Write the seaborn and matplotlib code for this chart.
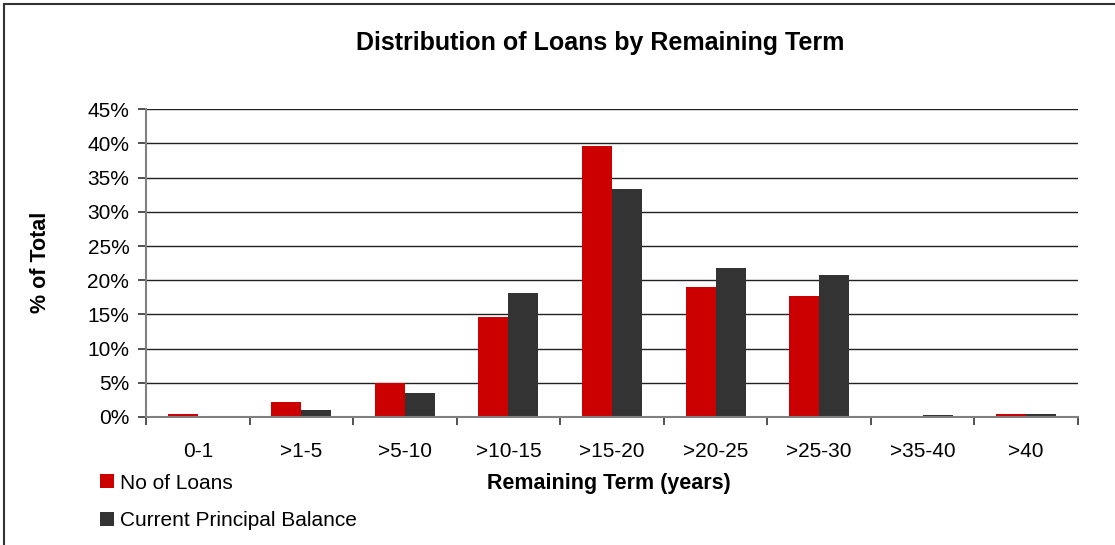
import matplotlib
matplotlib.use("Agg")
import matplotlib.pyplot as plt
import matplotlib.patches as mpatches
from matplotlib.ticker import FuncFormatter, FixedLocator
import numpy as np
import pandas as pd
import seaborn as sns

# Remaining-term buckets and the share of each series (% of total)
terms = ["0-1", ">1-5", ">5-10", ">10-15", ">15-20", ">20-25", ">25-30", ">35-40", ">40"]
no_of_loans = [0.4, 2.2, 4.9, 14.6, 39.6, 19.0, 17.7, 0.2, 0.5]
principal_balance = [0.05, 1.0, 3.5, 18.1, 33.3, 21.8, 20.8, 0.35, 0.5]
series_names = ["No of Loans", "Current Principal Balance"]
y_ticks = [0, 5, 10, 15, 20, 25, 30, 35, 40, 45]

colors = ["#CC0000", "#333333"]

df = pd.DataFrame({
    "term": terms * 2,
    "pct": no_of_loans + principal_balance,
    "series": [series_names[0]] * len(terms) + [series_names[1]] * len(terms),
})

sns.set_theme(style="white")
plt.rcParams["font.family"] = ["Liberation Sans", "DejaVu Sans"]

W, H = 1115, 545
fig = plt.figure(figsize=(W / 100, H / 100), dpi=100)
ax = fig.add_axes([146 / W, 1 - 417 / H, 932 / W, 307.7 / H])

sns.barplot(data=df, x="term", y="pct", hue="series", order=terms,
            hue_order=series_names, palette=colors, width=0.58,
            saturation=1, ax=ax, legend=False, linewidth=0, edgecolor="none")

ax.set_xlim(-0.5, len(terms) - 0.5)
ax.set_ylim(0, 45)
ax.yaxis.set_major_locator(FixedLocator(y_ticks))
ax.yaxis.set_major_formatter(FuncFormatter(lambda v, p: f"{v:.0f}%"))
ax.grid(axis="y", color="#222222", linewidth=1.0)
ax.set_axisbelow(True)

for side in ["top", "right"]:
    ax.spines[side].set_visible(False)
ax.spines["left"].set_color("#808080")
ax.spines["left"].set_linewidth(1.5)
ax.spines["bottom"].set_color("#808080")
ax.spines["bottom"].set_linewidth(1.5)

# tick marks between categories, labels centred under groups
ax.set_xticks(np.arange(len(terms)))
ax.set_xticklabels(terms)
ax.set_xticks(np.arange(-0.5, len(terms), 1.0), minor=True)
ax.tick_params(axis="x", which="major", length=0, pad=18, labelsize=15, colors="black")
ax.tick_params(axis="x", which="minor", length=6, width=1.2, color="#333333", bottom=True)
ax.tick_params(axis="y", which="major", length=6, width=1.2, color="#333333",
               left=True, pad=6, labelsize=15)
for t in ax.get_xticklabels() + ax.get_yticklabels():
    t.set_color("black")

ax.set_xlabel("")
ax.set_ylabel("")

fig.text(600 / W, 1 - 43 / H, "Distribution of Loans by Remaining Term",
         ha="center", va="center", fontsize=18, fontweight="bold", color="black")
fig.text(40 / W, 1 - 262 / H, "% of Total", rotation=90, ha="center", va="center",
         fontsize=15.5, fontweight="bold", color="black")
fig.text(609 / W, 1 - 484 / H, "Remaining Term (years)", ha="center", va="center",
         fontsize=15.5, fontweight="bold", color="black")

handles = [mpatches.Patch(facecolor=c, edgecolor="none") for c in colors]
fig.legend(handles, series_names, loc="upper left",
           bbox_to_anchor=(85 / W, 1 - 459 / H), frameon=False, fontsize=15,
           labelcolor="black", handlelength=0.68, handleheight=0.68,
           handletextpad=0.3, labelspacing=0.9, borderpad=0.2)

# outer chart border
fig.patches.append(mpatches.Rectangle((3.5 / W, -0.1), 1.2, 1 - 4 / H + 0.1,
                                      transform=fig.transFigure, fill=False,
                                      edgecolor="#333333", linewidth=1.5))

fig.savefig("out.png", dpi=100, facecolor="white")
